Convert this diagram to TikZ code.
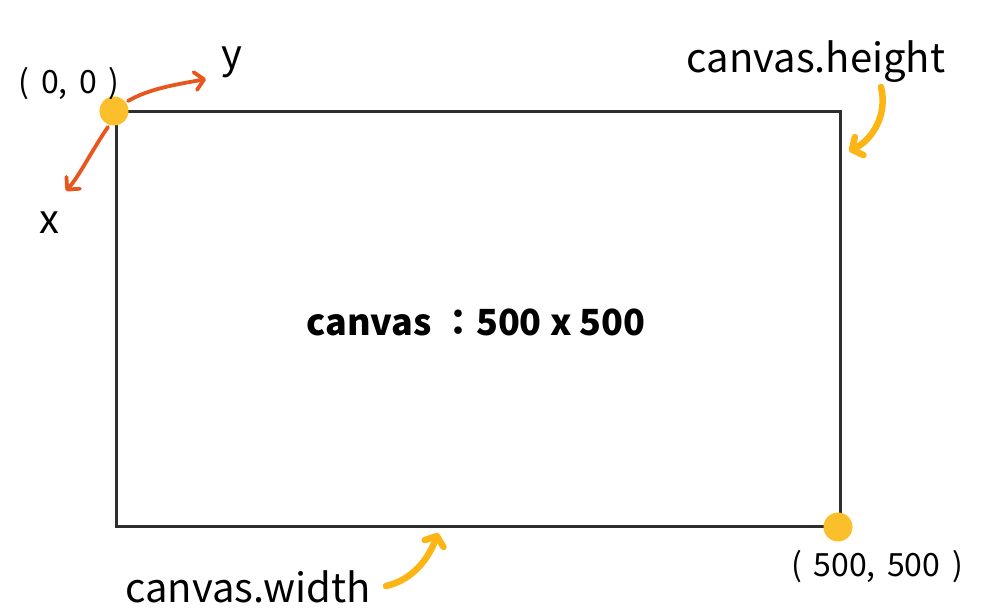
\documentclass[tikz,border=0pt]{standalone}
\usepackage{fontspec}
\setmainfont{Noto Sans CJK SC}
\newfontfamily\colonfont{Noto Sans CJK TC}
\newcommand{\wsp}{\hspace{0.36em}}
\usetikzlibrary{arrows.meta}
\definecolor{dotc}{HTML}{FBBF2C}
\definecolor{redc}{HTML}{E8561E}
\definecolor{ambc}{HTML}{FDB515}
\definecolor{framec}{HTML}{2E2E2E}
\tikzset{
  lbl/.style={inner sep=0pt, anchor=base, font=\fontsize{40}{48}\selectfont},
  coordlbl/.style={inner sep=0pt, anchor=base, font=\fontsize{32}{36}\selectfont},
  dotnode/.style={circle, fill=dotc, minimum size=29pt, inner sep=0pt},
  redarrow/.style={draw=redc, line width=3.8pt, line cap=round, -{Straight Barb[length=9pt,width=18pt,line cap=round,line join=round]}},
  ambarrow/.style={draw=ambc, line width=6.5pt, line cap=round, -{Straight Barb[length=8pt,width=20pt,line cap=round,line join=round]}},
}
\begin{document}
\begin{tikzpicture}[x=1pt,y=-1pt]
\useasboundingbox (0,0) rectangle (1007,614);
\draw[framec, line width=3pt] (116,111) rectangle (840,526);
\node[dotnode] (o) at (114,111) {};
\node[dotnode] (e) at (838,527) {};
\node[coordlbl] (ol) at (69,93) {(\wsp0,\wsp0\wsp)};
\node[coordlbl] (el) at (877,576) {(\wsp500,\wsp500\wsp)};
\node[lbl] (yl) at (232,68) {y};
\node[lbl] (xl) at (49,233) {x};
\node[lbl] (hl) at (816,72) {canvas.height};
\node[lbl] (wl) at (248,602) {canvas.width};
\node[inner sep=0pt, anchor=base, font=\fontsize{36}{40}\selectfont\bfseries] (c) at (476,335) {canvas {\colonfont\bfseries ：}500 x 500};
\coordinate (ys) at (128,101);
\coordinate (ye) at (206,79);
\coordinate (xs) at (108,127);
\coordinate (xe) at (66,191);
\draw[redarrow] (ys) .. controls (150,88) and (180,84) .. (ye);
\draw[redarrow] (xs) .. controls (92,150) and (80,175) .. (xe);
\coordinate (hs) at (881,87);
\coordinate (he) at (849,151);
\draw[ambarrow] (hs) .. controls (888,115) and (872,140) .. (he);
\coordinate (ws) at (386,586);
\coordinate (we) at (438,533);
\draw[ambarrow] (ws) .. controls (412,580) and (428,560) .. (we);
\end{tikzpicture}
\end{document}
